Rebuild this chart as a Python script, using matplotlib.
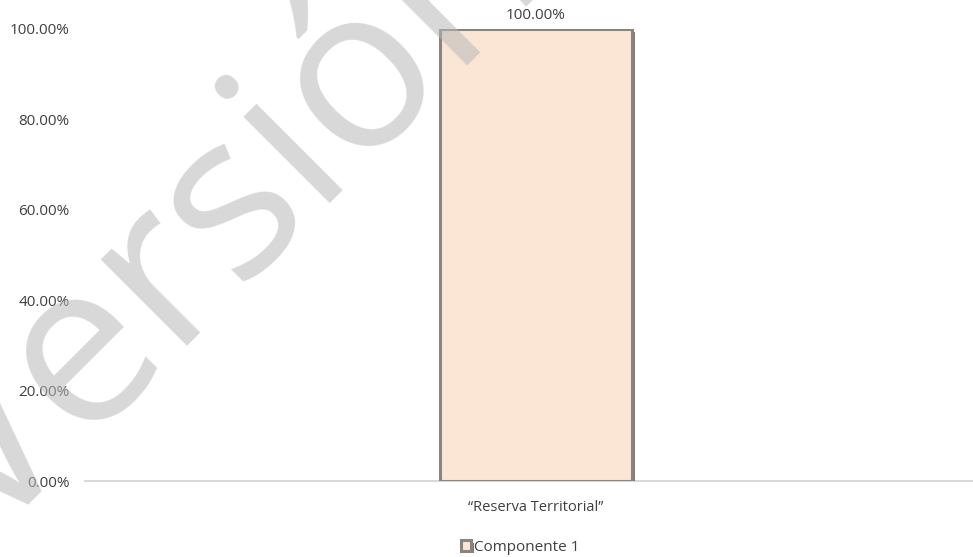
import matplotlib.pyplot as plt
import matplotlib.patheffects as pe
from matplotlib.ticker import FuncFormatter

categories = ["\u201cReserva Territorial\u201d"]
values = [1.0]
series_name = "Componente 1"
y_ticks = [0.0, 0.2, 0.4, 0.6, 0.8, 1.0]

plt.rcParams["font.family"] = ["Open Sans", "DejaVu Sans"]

fig = plt.figure(figsize=(9.73, 5.57), dpi=100)
ax = fig.add_axes([0.0874, 0.1364, 0.9126, 0.8116])

x = list(range(len(categories)))
bars = ax.bar(
    x,
    values,
    width=1.0,
    color="#fbe6d6",
    edgecolor="#8a847e",
    linewidth=2.2,
    label=series_name,
    zorder=3,
)
for b in bars:
    b.set_path_effects(
        [pe.SimplePatchShadow(offset=(2, -2), shadow_rgbFace="#444444", alpha=0.7), pe.Normal()]
    )

# value labels above the bars
for xi, v in zip(x, values):
    ax.annotate(
        f"{v * 100:.2f}%",
        (xi, v),
        xytext=(0, 4),
        textcoords="offset points",
        ha="center",
        va="bottom",
        fontsize=11,
        color="#404040",
        annotation_clip=False,
    )

ax.set_xlim(-2.349, 2.276)
ax.set_ylim(0, 1.0)
ax.set_xticks(x)
ax.set_xticklabels(categories, fontsize=10.5, color="#404040")
ax.set_yticks(y_ticks)
ax.yaxis.set_major_formatter(FuncFormatter(lambda v, p: f"{v * 100:.2f}%"))
ax.tick_params(axis="y", length=0, labelsize=11, labelcolor="#404040", pad=11)
ax.tick_params(axis="x", length=0, pad=14)

for side in ["top", "right", "left"]:
    ax.spines[side].set_visible(False)
ax.spines["bottom"].set_color("#d9d9d9")
ax.spines["bottom"].set_linewidth(1.5)

ax.legend(
    loc="center",
    bbox_to_anchor=(0.49, -0.146),
    frameon=False,
    fontsize=11,
    handlelength=0.7,
    handleheight=0.7,
    handletextpad=0.2,
    labelcolor="#404040",
)

# watermark
fig.text(
    -0.013,
    0.02,
    "Versión Preliminar",
    rotation=45,
    rotation_mode="anchor",
    ha="left",
    va="baseline",
    fontsize=164,
    color="#b8b8b8",
    alpha=0.55,
    zorder=10,
)

fig.savefig("out.png", dpi=100)
